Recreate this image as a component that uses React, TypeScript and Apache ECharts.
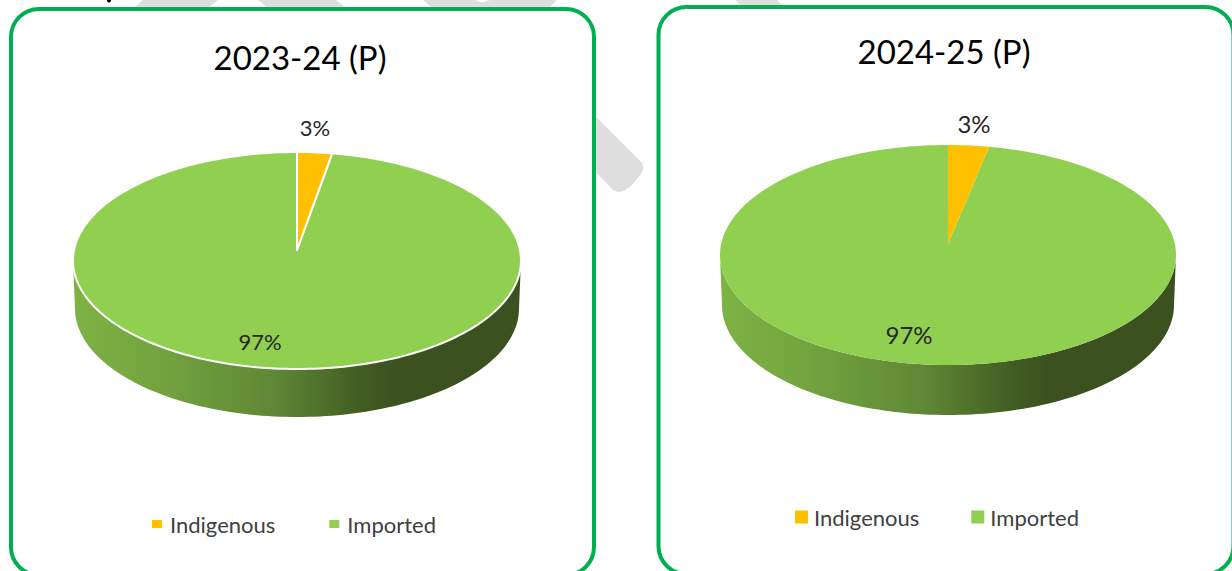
import React, { useEffect, useRef } from "react";
import * as echarts from "echarts";

const categories = ["Indigenous", "Imported"];
const periods = ["2023-24 (P)", "2024-25 (P)"];
const shares2023 = [2.51, 97.49];
const shares2024 = [2.9, 97.1];

const YELLOW = "#FFC000";
const GREEN = "#90CF50";
const FONT = "Lato";

const pieLayouts = [
  { cx: 297, cy: 260.5, apexY: 250, rx: 224, ry: 108.5, depth: 48, border: 2, small: [315, 127.5], large: [260, 341.5], fontSize: 22 },
  { cx: 948, cy: 255, apexY: 244, rx: 228, ry: 110, depth: 50, border: 0, small: [974, 123], large: [909, 334], fontSize: 24 },
];

function rimPoint(l: any, deg: number) {
  const a = (deg * Math.PI) / 180;
  return [l.cx + l.rx * Math.sin(a), l.cy - l.ry * Math.cos(a)];
}

function arcPoints(l: any, from: number, to: number) {
  const out: number[][] = [];
  const n = Math.max(2, Math.ceil(Math.abs(to - from) / 1.5));
  for (let i = 0; i <= n; i++) out.push(rimPoint(l, from + ((to - from) * i) / n));
  return out;
}

function wallPoints(l: any) {
  const bottom = { cx: l.cx, cy: l.cy + l.depth, rx: l.rx - 2, ry: l.ry };
  return [...arcPoints(l, 90, 270), ...arcPoints(bottom, 270, 90)];
}

function makeSeries(values: number[], layout: any) {
  const total = values.reduce((a, b) => a + b, 0);
  const colors = [YELLOW, GREEN];
  let acc = 0;
  const spans = values.map((v) => {
    const s = [(acc / total) * 360, ((acc + v) / total) * 360];
    acc += v;
    return s;
  });
  const order = [1, 0];
  return order.map((i) => ({
    type: "custom",
    name: categories[i],
    coordinateSystem: "none",
    silent: true,
    z: 3 + (i === 0 ? 1 : 0),
    itemStyle: { color: colors[i] },
    data: [[values[i]]],
    renderItem: (_p: any, api: any) => {
      const v = api.value(0);
      const [from, to] = spans[i];
      const children: any[] = [];
      if (i === 1) {
        children.push({
          type: "polygon",
          shape: { points: wallPoints(layout) },
          style: {
            fill: new echarts.graphic.LinearGradient(0, 0, 1, 0, [
              { offset: 0, color: "#7DB244" },
              { offset: 0.18, color: "#74A53F" },
              { offset: 0.45, color: "#5F8735" },
              { offset: 0.64, color: "#425D22" },
              { offset: 0.72, color: "#3B5220" },
              { offset: 1, color: "#3B5220" },
            ]),
          },
        });
      }
      children.push({
        type: "polygon",
        shape: { points: [[layout.cx, layout.apexY], ...arcPoints(layout, from, to)] },
        style: {
          fill: colors[i],
          stroke: layout.border ? "#FFFFFF" : undefined,
          lineWidth: layout.border,
          lineJoin: "round",
        },
      });
      const pos = i === 0 ? layout.small : layout.large;
      children.push({
        type: "text",
        x: pos[0],
        y: pos[1],
        z2: 10,
        style: {
          text: `${Math.round(v)}%`,
          fontFamily: FONT,
          fontSize: layout.fontSize,
          fill: "#262626",
          align: "center",
          verticalAlign: "middle",
        },
      });
      return { type: "group", children };
    },
  }));
}

const GRAY = "#DEDEDE";
const BOX = "#00B050";

export default function App() {
  const ref = useRef<HTMLDivElement>(null);
  useEffect(() => {
    const chart = echarts.init(ref.current!, undefined, { renderer: "svg" });
    const gray = (points: number[][]) => ({ type: "polygon", z: 0, silent: true, shape: { points }, style: { fill: GRAY } });
    const box = (x: number, y: number, width: number, height: number) => ({
      type: "rect",
      z: 1,
      silent: true,
      shape: { x, y, width, height, r: 28 },
      style: { fill: "#FFFFFF", stroke: BOX, lineWidth: 4 },
    });
    chart.setOption({
      animation: false,
      backgroundColor: "#FFFFFF",
      title: [
        { text: periods[0], left: 295, top: 35, textAlign: "center", textStyle: { fontFamily: FONT, fontSize: 33, fontWeight: "normal", color: "#000" } },
        { text: periods[1], left: 939, top: 29, textAlign: "center", textStyle: { fontFamily: FONT, fontSize: 33, fontWeight: "normal", color: "#000" } },
      ],
      legend: [
        {
          data: categories,
          left: 152,
          top: 513,
          padding: 0,
          icon: "rect",
          itemWidth: 10,
          itemHeight: 8,
          itemGap: 54,
          selectedMode: false,
          textStyle: { fontFamily: FONT, fontSize: 22, color: "#404040", padding: [0, 0, 0, 3] },
        },
        {
          data: categories,
          left: 795,
          top: 506,
          padding: 0,
          icon: "rect",
          itemWidth: 13,
          itemHeight: 13,
          itemGap: 52,
          selectedMode: false,
          textStyle: { fontFamily: FONT, fontSize: 22, color: "#404040", padding: [0, 0, 0, 1] },
        },
      ],
      graphic: [
        gray([[135, 7], [143, 0], [218, 0], [209, 7]]),
        gray([[258, 0], [267, 7], [345, 7], [336, 0]]),
        gray([[423, 0], [431, 7], [550, 7], [557, 0], [490, 0], [482, 2.5], [475, 0]]),
        gray([[735, 0], [743, 7], [784, 7], [777, 0]]),
        gray([[590, 111], [642, 163], [643.5, 168], [641, 174], [632, 185], [624, 191], [618, 192], [613, 190], [590, 166]]),
        { type: "circle", z: 0, silent: true, shape: { cx: 109, cy: 0.5, r: 2 }, style: { fill: "#000" } },
        box(11, 9, 583, 566),
        box(658.5, 7, 575, 567),
      ],
      series: [...makeSeries(shares2023, pieLayouts[0]), ...makeSeries(shares2024, pieLayouts[1])],
    });
    return () => chart.dispose();
  }, []);
  return <div ref={ref} style={{ position: "absolute", left: 0, top: 0, width: 1232, height: 571 }} />;
}
